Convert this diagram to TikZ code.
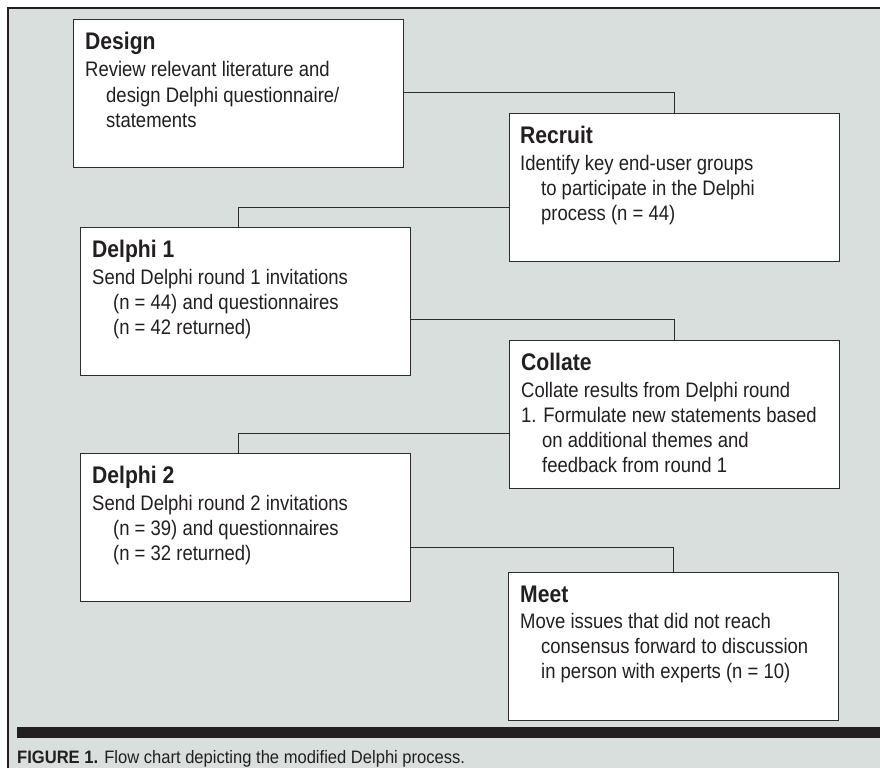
\documentclass[tikz,border=0pt]{standalone}
\usepackage{fontspec}
\setmainfont{Liberation Sans}[FakeStretch=0.88]
\newfontfamily\capfont{Liberation Sans}[FakeStretch=0.92]
\usetikzlibrary{calc}
\definecolor{bgcol}{RGB}{217,223,220}
\definecolor{inkcol}{RGB}{35,31,32}
\definecolor{linecol}{RGB}{45,45,45}
\newcommand\flowbody[1]{\parbox[t]{315pt}{\raggedright\fontsize{21}{25.3}\selectfont #1}}
\newcommand\ind{\hspace*{21pt}}
\tikzset{
  flowbox/.style={draw=linecol, fill=white, line width=1.1pt, rectangle, inner sep=0pt,
    minimum width=330pt, minimum height=148pt, anchor=north west},
  flowtitle/.style={anchor=base west, inner sep=0pt, text=inkcol,
    font=\fontsize{24}{28}\selectfont\bfseries},
  flowtext/.style={anchor=base west, inner sep=0pt, text=inkcol},
  conn/.style={draw=linecol, line width=0.9pt}
}
\begin{document}
\begin{tikzpicture}[x=1pt,y=-1pt]
\useasboundingbox (0,0) rectangle (880,768);
\fill[bgcol] (8,8) rectangle (880,768);
\draw[inkcol, line width=1.5pt] (8,768) -- (8,8) -- (880,8);

% boxes
\node[flowbox] (design) at (73,19) {};
\node[flowbox] (recruit) at (509,113) {};
\node[flowbox] (delphi1) at (80,227) {};
\node[flowbox] (collate) at (509,340) {};
\node[flowbox] (delphi2) at (80,453) {};
\node[flowbox] (meet) at (508,572) {};

% titles and texts
\node[flowtitle] (designT) at ($(design.north west)+(12,31)$) {Design};
\node[flowtext] (designB) at ($(design.north west)+(12,58)$) {\flowbody{Review relevant literature and\\\ind design Delphi questionnaire/\\\ind statements}};

\node[flowtitle] (recruitT) at ($(recruit.north west)+(11,30)$) {Recruit};
\node[flowtext] (recruitB) at ($(recruit.north west)+(11,57)$) {\flowbody{Identify key end-user groups\\\ind to participate in the Delphi\\\ind process (n = 44)}};

\node[flowtitle] (delphi1T) at ($(delphi1.north west)+(12,30)$) {Delphi 1};
\node[flowtext] (delphi1B) at ($(delphi1.north west)+(12,57)$) {\flowbody{Send Delphi round 1 invitations\\\ind (n = 44) and questionnaires\\\ind (n = 42 returned)}};

\node[flowtitle] (collateT) at ($(collate.north west)+(12,30)$) {Collate};
\node[flowtext] (collateB) at ($(collate.north west)+(12,57)$) {\flowbody{Collate results from Delphi round\\1. Formulate new statements based\\\ind on additional themes and\\\ind feedback from round 1}};

\node[flowtitle] (delphi2T) at ($(delphi2.north west)+(12,30)$) {Delphi 2};
\node[flowtext] (delphi2B) at ($(delphi2.north west)+(12,57)$) {\flowbody{Send Delphi round 2 invitations\\\ind (n = 39) and questionnaires\\\ind (n = 32 returned)}};

\node[flowtitle] (meetT) at ($(meet.north west)+(12,30)$) {Meet};
\node[flowtext] (meetB) at ($(meet.north west)+(12,56)$) {\flowbody{Move issues that did not reach\\\ind consensus forward to discussion\\\ind in person with experts (n = 10)}};

% connectors
\draw[conn] ([yshift=-73pt]design.north east) -| (recruit.north);
\draw[conn] ([yshift=-94pt]recruit.north west) -| ([xshift=158pt]delphi1.north west);
\draw[conn] ([yshift=-92pt]delphi1.north east) -| (collate.north);
\draw[conn] ([yshift=-93pt]collate.north west) -| ([xshift=158pt]delphi2.north west);
\draw[conn] ([yshift=-94pt]delphi2.north east) -| (meet.north);

% bar and caption
\fill[inkcol] (17,727) rectangle (880,738);
\node[anchor=base west, inner sep=0pt, text=inkcol, font=\capfont\fontsize{18}{20}\selectfont] (caption) at (17,763) {\textbf{FIGURE 1.} Flow chart depicting the modified Delphi process.};
\end{tikzpicture}
\end{document}
